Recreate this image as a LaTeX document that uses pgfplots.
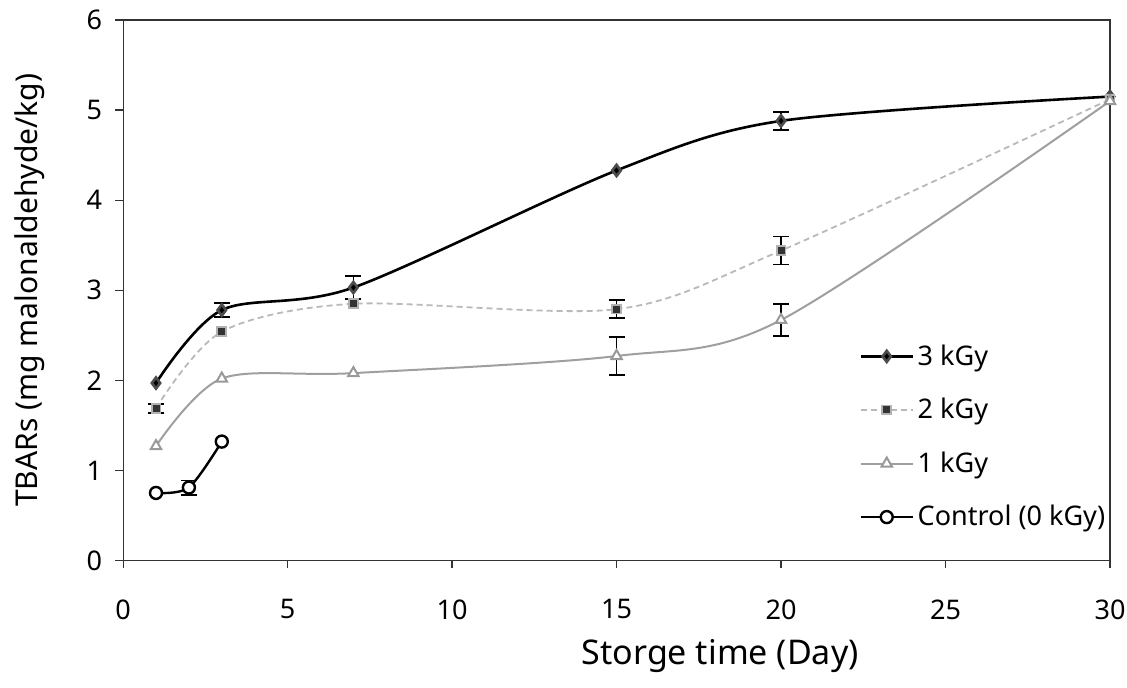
\documentclass[border=0pt]{standalone}
\usepackage{fontspec}
\setmainfont{Noto Sans}
\usepackage{pgfplots}
\pgfplotsset{compat=1.18}

\begin{document}
\begin{tikzpicture}
\begin{axis}[
    scale only axis,
    width=493pt, height=270pt,
    xmin=0, xmax=30, ymin=0, ymax=6,
    xtick={0,5,...,30}, ytick={0,1,...,6},
    font=\fontsize{13.5}{16}\selectfont,
    /pgf/number format/assume math mode=true,
    tick align=outside, tick pos=left,
    major tick length=4pt,
    axis line style={black!80, line width=0.6pt},
    tick style={black!80, line width=0.6pt},
    xticklabel style={yshift=-12pt},
    yticklabel style={xshift=-3pt},
    xlabel={Storge time (Day)},
    ylabel={TBARs (mg malonaldehyde/kg)},
    xlabel style={at={(axis description cs:0.605,0)}, anchor=north, yshift=-36pt,
        font=\fontsize{17}{20}\selectfont},
    ylabel style={yshift=14pt, font=\fontsize{15}{18}\selectfont},
    clip=false,
    legend cell align=left,
    legend style={draw=none, fill=none, at={(0.74,0.415)}, anchor=north west,
        row sep=11pt, font=\fontsize{13.5}{16}\selectfont},
    legend image code/.code={%
        \draw[mark repeat=2, mark phase=2] plot coordinates {(0cm,0cm) (0.45cm,0cm) (0.9cm,0cm)};},
    error bars/error bar style={black, line width=0.8pt},
    error bars/error mark options={rotate=90, mark size=4pt, line width=0.8pt},
]
% error bars first so the marks sit on top
\addplot[draw=none, forget plot, error bars/.cd, y dir=both, y explicit]
coordinates {(3,2.78) +- (0,0.08) (7,3.03) +- (0,0.13) (20,4.88) +- (0,0.10)
             (1,1.69) +- (0,0.05) (15,2.79) +- (0,0.10) (20,3.44) +- (0,0.155)
             (15,2.27) +- (0,0.21) (20,2.67) +- (0,0.18) (2,0.81) +- (0,0.08)};
% 3 kGy
\addplot[black, line width=1.3pt, smooth, tension=0.5, mark=diamond*, mark size=2.8pt,
    mark options={fill=black, draw=black!70}]
coordinates {(1,1.97) (3,2.78) (7,3.03) (15,4.33) (20,4.88) (30,5.15)};
\addlegendentry{3 kGy}
% 2 kGy
\addplot[gray!55, line width=0.9pt, dash pattern=on 3pt off 2pt, smooth, tension=0.5,
    mark=square*, mark size=2.2pt, mark options={solid, fill=black!80, draw=gray!60}]
coordinates {(1,1.69) (3,2.54) (7,2.85) (15,2.79) (20,3.44) (30,5.12)};
\addlegendentry{2 kGy}
% 1 kGy
\addplot[gray!75, line width=1pt, smooth, tension=0.5,
    mark=triangle*, mark size=3pt, mark options={fill=white, draw=gray!80}]
coordinates {(1,1.27) (3,2.02) (7,2.08) (15,2.27) (20,2.67) (30,5.10)};
\addlegendentry{1 kGy}
% Control
\addplot[black, line width=1.2pt, smooth, tension=0.5,
    mark=*, mark size=3pt, mark options={fill=white, draw=black}]
coordinates {(1,0.75) (2,0.81) (3,1.32)};
\addlegendentry{Control (0 kGy)}
\end{axis}
\pgfresetboundingbox
\path ([xshift=-61.5pt,yshift=-63.5pt]current axis.south west) rectangle ([xshift=8.5pt,yshift=10pt]current axis.north east);
\end{tikzpicture}
\end{document}
